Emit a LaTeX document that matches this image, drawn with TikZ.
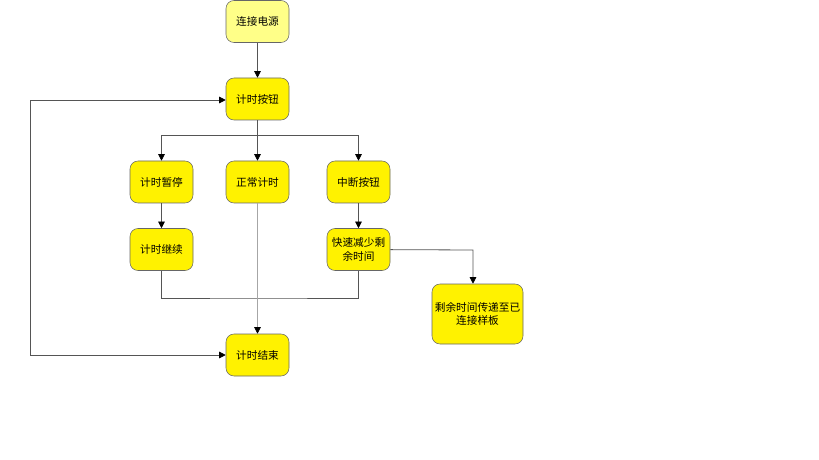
\documentclass[tikz,border=0pt]{standalone}
\usepackage{fontspec}
\setmainfont{Noto Sans CJK SC}
\usetikzlibrary{arrows.meta}
\definecolor{boxline}{HTML}{666666}
\definecolor{wire}{HTML}{555555}
\definecolor{paleyellow}{HTML}{FFFF88}
\tikzset{tip/.tip={Triangle[length=5pt,width=5pt,black]}}
\begin{document}
\begin{tikzpicture}[x=0.75pt,y=-0.75pt,
  box/.style={draw=boxline,fill=yellow,rounded corners=6pt,minimum width=47.25pt,minimum height=31.5pt,align=center,inner sep=1pt,font=\fontsize{8}{10}\selectfont},
  link/.style={draw=wire,line width=0.6pt},
  go/.style={link,-tip}]
\useasboundingbox (0,0) rectangle (819,460);

% boxes
\node[box,fill=paleyellow] (power) at (257.5,21.5) {连接电源};
\node[box] (btn) at (257.5,99) {计时按钮};
\node[box] (pause) at (161.5,182) {计时暂停};
\node[box] (normal) at (257.5,182) {正常计时};
\node[box] (stop) at (358.5,182) {中断按钮};
\node[box] (resume) at (161.5,249.5) {计时继续};
\node[box] (fast) at (358.5,249.5) {快速减少剩\\余时间};
\node[box] (finish) at (257.5,355) {计时结束};
\node[box,minimum width=68.25pt,minimum height=45pt] (send) at (477.5,314) {剩余时间传递至已\\连接样板};

\coordinate (split) at (257.5,135);
\coordinate (join) at (257.5,298);
\coordinate (turn) at (473,250);
\coordinate (loopa) at (30,100);
\coordinate (loopb) at (30,355);

% wires
\draw[go] (power) -- (btn);
\draw[link] (btn) -- (split);
\draw[go] (split) -| (pause);
\draw[go] (split) -| (stop);
\draw[go] (split) -- (normal.north);
\draw[go] (pause) -- (resume);
\draw[go] (stop) -- (fast);
\draw[link] (resume.south) |- (join) -| (fast.south);
\draw[go,draw=gray!70] (normal) -- (finish);
\draw[go] (fast) -- (turn) -- (turn |- send.north);
\draw[link,tip-tip] (finish.west) -- (loopb) -- (loopa) -- (btn.west |- loopa);

\end{tikzpicture}
\end{document}
